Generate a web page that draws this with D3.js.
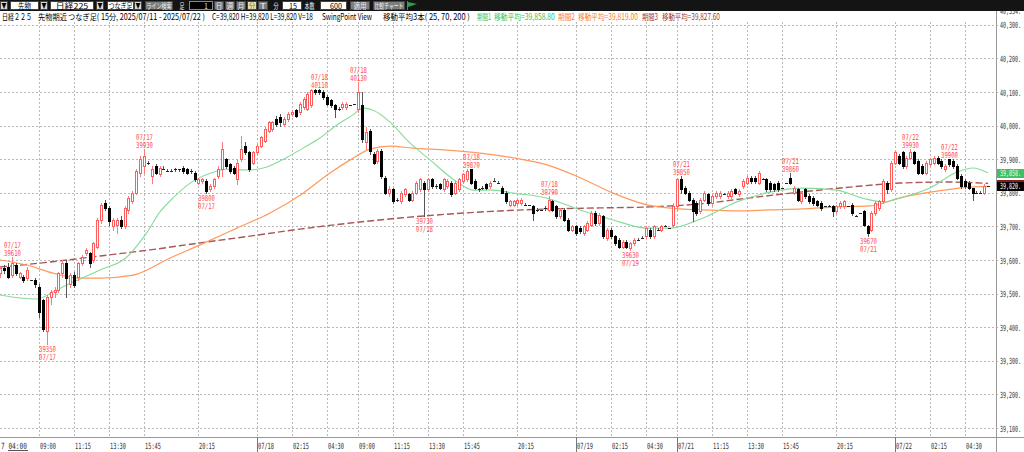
<!DOCTYPE html>
<html><head><meta charset="utf-8">
<script src="https://cdn.jsdelivr.net/npm/d3@7/dist/d3.min.js"></script>
<style>html,body{margin:0;padding:0;background:#fff;overflow:hidden}svg{display:block}</style>
</head><body>
<svg id="chart" width="1024" height="452"></svg>
<script>
// ================= DATA (15-minute bars, [open, high, low, close]) =================
const night0717 = [ // 07/17 04:00 - 06:00
[39560,39580,39550,39575],[39575,39585,39560,39570],[39580,39590,39545,39550],[39555,39610,39550,39590],
[39585,39590,39555,39560],[39550,39565,39545,39560],[39550,39555,39535,39540],[39545,39580,39540,39570],
[39540,39540,39540,39540]];
const day0717 = [ // 07/17 08:45 - 15:45
[39540,39545,39520,39530],[39520,39530,39430,39445],[39480,39485,39390,39395],[39390,39495,39350,39490],
[39490,39510,39470,39505],[39505,39520,39490,39510],[39510,39565,39505,39560],[39560,39600,39550,39590],
[39590,39600,39490,39545],[39530,39560,39520,39555],[39555,39565,39520,39525],[39550,39595,39540,39590],
[39590,39615,39585,39610],[39620,39635,39615,39630],[39620,39625,39580,39590],[39600,39655,39595,39650],
[39640,39725,39635,39720],[39720,39770,39710,39765],[39770,39780,39750,39755],[39755,39760,39705,39715],
[39700,39725,39690,39720],[39705,39725,39680,39720],[39720,39730,39695,39700],[39700,39760,39695,39755],
[39750,39790,39740,39785],[39775,39805,39770,39800],[39800,39870,39795,39865],[39860,39910,39850,39900],
[39880,39930,39860,39910]];
const night0718 = [ // 07/17 17:00 - 07/18 06:00
[39890,39895,39885,39890],[39850,39880,39830,39870],[39880,39885,39855,39860],[39855,39880,39850,39875],
[39870,39880,39870,39870],[39865,39870,39865,39865],[39865,39870,39865,39865],[39870,39875,39865,39870],
[39870,39870,39865,39870],[39875,39880,39860,39865],[39870,39875,39855,39860],[39865,39870,39860,39865],
[39860,39865,39835,39840],[39830,39845,39825,39840],[39835,39845,39830,39840],[39835,39840,39800,39805],
[39810,39825,39805,39820],[39820,39845,39815,39840],[39850,39880,39845,39870],[39870,39950,39850,39930],
[39900,39905,39875,39880],[39885,39890,39860,39865],[39875,39880,39855,39860],[39840,39900,39825,39890],
[39900,39970,39895,39930],[39940,39950,39915,39920],[39920,39925,39865,39870],[39890,39925,39885,39920],
[39920,39945,39915,39940],[39940,39970,39935,39965],[39955,39995,39950,39990],[39985,40015,39980,40010],
[39990,40015,39985,40010],[40020,40030,40000,40005],[40025,40035,40000,40010],[40005,40025,40000,40020],
[40020,40040,40015,40035],[40035,40045,40030,40040],[40045,40050,40025,40030],[40040,40070,40035,40065],
[40055,40085,40050,40080],[40050,40100,40045,40095],[40060,40108,40055,40105],[40105,40108,40095,40100],
[40105,40110,40095,40100],[40100,40105,40080,40085],[40085,40090,40060,40065],[40075,40080,40055,40060],
[40060,40065,40025,40050],[40050,40055,40045,40050],[40055,40070,40050,40065],[40055,40070,40050,40065],
[40060,40060,40060,40060]];
const day0718 = [ // 07/18 08:45 - 15:45
[40065,40065,40065,40065],[40050,40130,40040,40100],[40060,40100,39950,39960],[39950,39995,39930,39980],
[39985,39990,39915,39925],[39915,39920,39885,39890],[39895,39930,39890,39925],[39925,39930,39845,39850],
[39845,39850,39795,39800],[39800,39820,39790,39810],[39810,39815,39770,39775],[39780,39785,39775,39780],
[39775,39805,39770,39800],[39795,39815,39790,39810],[39795,39800,39775,39780],[39780,39805,39775,39800],
[39800,39835,39795,39830],[39810,39845,39805,39840],[39830,39835,39730,39810],[39810,39845,39805,39840],
[39840,39845,39815,39820],[39820,39825,39815,39820],[39825,39830,39810,39815],[39810,39845,39805,39840],
[39820,39840,39815,39835],[39830,39835,39790,39795],[39800,39835,39795,39830],[39810,39845,39805,39840],
[39835,39860,39830,39855]];
const night0719 = [ // 07/18 17:00 - 07/19 06:00
[39840,39870,39835,39865],[39870,39870,39825,39830],[39835,39840,39810,39815],[39810,39815,39805,39810],
[39815,39820,39810,39815],[39825,39830,39810,39815],[39820,39835,39815,39830],[39835,39845,39835,39835],
[39830,39835,39830,39830],[39815,39820,39800,39800],[39800,39805,39770,39775],[39765,39780,39760,39775],
[39765,39780,39760,39775],[39770,39785,39765,39780],[39770,39785,39765,39780],[39765,39770,39765,39765],
[39765,39765,39765,39765],[39760,39765,39720,39740],[39750,39755,39745,39750],[39750,39750,39750,39750],
[39755,39760,39750,39755],[39750,39790,39745,39780],[39775,39780,39745,39750],[39760,39765,39725,39730],
[39730,39755,39725,39750],[39750,39755,39715,39720],[39720,39725,39685,39690],[39690,39705,39685,39700],
[39700,39705,39675,39680],[39695,39700,39680,39685],[39680,39705,39675,39700],[39690,39715,39685,39710],
[39705,39745,39700,39740],[39740,39745,39705,39710],[39710,39740,39705,39735],[39730,39735,39665,39670],
[39665,39695,39660,39690],[39690,39695,39665,39670],[39670,39675,39645,39650],[39660,39665,39635,39640],
[39640,39660,39635,39655],[39655,39660,39635,39640],[39635,39655,39630,39650],[39650,39665,39645,39660],
[39660,39665,39660,39660],[39665,39670,39665,39665],[39670,39700,39665,39695],[39690,39695,39665,39670],
[39670,39705,39665,39700],[39690,39695,39690,39690],[39690,39705,39685,39700],[39700,39705,39700,39700],
[39695,39695,39695,39695]];
const day0721 = [ // 07/21 08:45 - 15:45
[39705,39770,39700,39760],[39760,39845,39750,39840],[39840,39850,39800,39810],[39815,39820,39795,39800],
[39800,39805,39775,39780],[39780,39785,39715,39745],[39770,39775,39735,39740],[39745,39785,39740,39780],
[39780,39805,39775,39800],[39795,39800,39765,39770],[39770,39795,39765,39790],[39790,39805,39785,39800],
[39790,39805,39785,39800],[39795,39800,39795,39795],[39790,39805,39785,39800],[39790,39810,39785,39805],
[39810,39815,39795,39800],[39795,39810,39790,39805],[39820,39840,39815,39835],[39830,39850,39825,39845],
[39845,39850,39830,39835],[39845,39850,39830,39835],[39830,39865,39825,39860],[39840,39845,39840,39840],
[39840,39845,39805,39810],[39830,39835,39805,39810],[39825,39830,39805,39810],[39830,39835,39805,39810],
[39815,39815,39815,39815]];
const night0722 = [ // 07/21 17:00 - 07/22 06:00
[39830,39830,39830,39830],[39845,39860,39825,39830],[39800,39820,39795,39815],[39810,39815,39775,39780],
[39775,39805,39770,39800],[39810,39815,39785,39790],[39790,39795,39770,39775],[39785,39790,39765,39770],
[39775,39780,39760,39765],[39770,39775,39750,39755],[39760,39760,39760,39760],[39760,39765,39760,39760],
[39760,39765,39730,39745],[39745,39765,39740,39760],[39760,39775,39755,39770],[39760,39780,39755,39775],
[39760,39760,39760,39760],[39765,39770,39735,39740],[39730,39735,39730,39730],[39740,39740,39740,39740],
[39745,39750,39700,39705],[39700,39705,39670,39680],[39690,39745,39685,39740],[39740,39775,39735,39770],
[39755,39780,39750,39775],[39775,39840,39770,39835],[39830,39835,39800,39810],[39810,39895,39805,39890],
[39890,39925,39885,39920],[39910,39915,39885,39890],[39920,39925,39875,39880],[39880,39910,39875,39905],
[39905,39930,39900,39920],[39920,39925,39885,39890],[39895,39900,39855,39860],[39880,39885,39855,39860],
[39860,39895,39855,39890],[39885,39905,39880,39900],[39890,39910,39885,39905],[39905,39910,39885,39890],
[39895,39900,39875,39880],[39870,39885,39865,39880],[39900,39900,39880,39885],[39895,39900,39875,39880],
[39880,39885,39840,39845],[39850,39855,39815,39820],[39835,39840,39815,39820],[39830,39835,39810,39815],
[39815,39815,39780,39800],[39800,39805,39800,39800],[39800,39805,39800,39800],[39800,39825,39795,39820],
[39820,39820,39820,39820]];

// moving averages: [bar index, value]
const ma25 = [[0,39496],[5.1,39487],[9.5,39484],[13.6,39505],[17.2,39526],[20.5,39543],[25.7,39570],[32.6,39609],
[37.8,39683],[41.1,39743],[44.4,39784],[48.8,39828],[54,39858],[58.3,39870],[64.2,39868],[68.6,39877],[73.8,39906],
[77.9,39933],[82.2,39963],[86.6,40002],[90.7,40032],[93.3,40052],[95.9,40046],[100.2,40011],[104.6,39957],
[110.5,39898],[117.5,39832],[121.6,39808],[126.7,39808],[131.9,39799],[140.6,39784],[149.1,39749],[157.6,39719],
[166.3,39695],[172.2,39695],[180.7,39725],[189.4,39773],[197.9,39802],[206.4,39814],[215.1,39808],[221.8,39784],
[227,39773],[232.1,39787],[239,39814],[246,39862],[250.1,39874],[254,39859]];
const ma70 = [[0,39600],[6.9,39585],[13.6,39561],[20.5,39546],[25.7,39546],[34.2,39555],[43.7,39606],[51.4,39645],
[60.9,39695],[69.4,39740],[77.9,39799],[84.8,39859],[90,39898],[95.1,39930],[100.2,39939],[106.1,39933],
[114.9,39927],[123.4,39918],[131.9,39904],[140.6,39883],[149.1,39845],[157.6,39799],[166.3,39764],[174.8,39752],
[180.7,39749],[189.4,39746],[197.9,39749],[206.4,39752],[215.1,39758],[223.6,39761],[232.1,39787],[240.9,39805],
[249.3,39817],[254,39819]];
const ma200 = [[0,39579],[12.8,39594],[25.7,39612],[38.5,39630],[51.4,39651],[64.2,39671],[77.1,39692],[90,39710],
[102.8,39725],[115.7,39737],[128.5,39746],[141.4,39752],[154.2,39755],[167.1,39758],[179.9,39767],[192.8,39785],
[205.6,39802],[218.5,39817],[231.3,39829],[244.2,39832],[254,39828]];
const maLast = [39858.80, 39819.00, 39827.60];
const lastClose = 39820;

const tickIndex = [10,19,28,37,51,66,75,84,92,101,110,119,133,148,157,166,174,183,192,201,215,230,239,248];
const tickLabel = ["09:00","11:15","13:30","15:45","20:15","07/18","02:15","04:30","09:00","11:15","13:30","15:45",
"20:15","07/19","02:15","04:30","07/21","11:15","13:30","15:45","20:15","07/22","02:15","04:30"];
const priceTicks = [39100,39200,39300,39400,39500,39600,39700,39800,39900,40000,40100,40200,40300];

const swingIndex = [3,12,37,53,82,92,109,121,141,162,175,203,223,234,244];
const swingValue = [39610,39350,39930,39800,40110,40130,39730,39870,39790,39630,39850,39860,39670,39930,39900];
const swingDate = ["07/17","07/17","07/17","07/17","07/18","07/18","07/18","07/18","07/18","07/19","07/21","07/21","07/21","07/22","07/22"];
const swingType = ["H","L","H","L","H","H","L","H","H","L","H","H","L","H","H"];

// ================= DRAW =================
const bars = [].concat(night0717, day0717, night0718, day0718, night0719, day0721, night0722);
const svg = d3.select('#chart');
const plotR = 996, plotT = 11, plotB = 437;
const xs = d3.scaleLinear().domain([0,256]).range([0.1, 0.1 + 3.89*256]);
const ys = d3.scaleLinear().domain([39100,40300]).range([428, 24.8]);
const MONO = "'DejaVu Sans Mono', monospace";
const JP = "'Noto Sans CJK JP', sans-serif";

// text squeezed horizontally to a target width (bitmap-like narrow font of the original)
function fitText(g, x, y, t, w, size, family, fill, anchor) {
  const el = g.append('text').attr('font-family',family).attr('font-size',size+'px').attr('fill',fill).text(t);
  const nat = el.node().getComputedTextLength() || w;
  const s = w / nat;
  const x0 = anchor==='middle' ? x - w/2 : anchor==='end' ? x - w : x;
  el.attr('transform',`translate(${x0},${y}) scale(${s},1)`);
  return el;
}

svg.append('rect').attr('width',1024).attr('height',452).attr('fill','#fff');
svg.append('defs').append('clipPath').attr('id','plotclip').append('rect')
  .attr('x',0).attr('y',plotT).attr('width',plotR).attr('height',plotB-plotT);

// grid
const grid = svg.append('g');
grid.selectAll('line.h').data(priceTicks).join('line')
  .attr('x1',0).attr('x2',999).attr('y1',d=>Math.round(ys(d))+0.5).attr('y2',d=>Math.round(ys(d))+0.5)
  .attr('stroke','#b9b9b9').attr('stroke-dasharray','2,2');
grid.selectAll('line.v').data(tickIndex).join('line')
  .attr('x1',d=>Math.round(xs(d))+0.5).attr('x2',d=>Math.round(xs(d))+0.5).attr('y1',22).attr('y2',plotB)
  .attr('stroke','#b9b9b9').attr('stroke-dasharray','2,2');

const plot = svg.append('g').attr('clip-path','url(#plotclip)');

// moving averages
const lineGen = d3.line().x(d=>xs(d[0])).y(d=>ys(d[1])).curve(d3.curveMonotoneX);
plot.append('path').attr('d',lineGen(ma200)).attr('fill','none').attr('stroke','#a85656')
  .attr('stroke-width',1.4).attr('stroke-dasharray','7,3');
plot.append('path').attr('d',lineGen(ma70)).attr('fill','none').attr('stroke','#ff9a5c').attr('stroke-width',1.2);
plot.append('path').attr('d',lineGen(ma25)).attr('fill','none').attr('stroke','#86dc9a').attr('stroke-width',1.1);

// candles
const cg = plot.append('g');
bars.forEach((b,i)=>{
  const [o,h,l,c] = b;
  const cx = Math.round(xs(i));
  const up = c>o, down = c<o;
  const wickCol = up ? '#ff7a7a' : '#555';
  if (h!==l) cg.append('line').attr('x1',cx+0.5).attr('x2',cx+0.5)
     .attr('y1',Math.round(ys(h))).attr('y2',Math.round(ys(l))+1).attr('stroke',wickCol);
  if (up) {
    const yt = Math.round(ys(c)), yb = Math.round(ys(o));
    cg.append('rect').attr('x',cx-0.5).attr('y',yt+0.5).attr('width',2).attr('height',Math.max(1,yb-yt))
      .attr('fill','#fff').attr('stroke','#ff5c5c');
  } else if (down) {
    const yt = Math.round(ys(o)), yb = Math.round(ys(c));
    cg.append('rect').attr('x',cx-1).attr('y',yt).attr('width',3).attr('height',Math.max(1,yb-yt+1)).attr('fill','#000');
  } else {
    const yy = Math.round(ys(c))+0.5;
    cg.append('line').attr('x1',cx-1).attr('x2',cx+2).attr('y1',yy).attr('y2',yy).attr('stroke','#222');
  }
});

// swing labels
const lab = svg.append('g');
swingIndex.forEach((idx,k)=>{
  const cx = Math.round(xs(idx))+0.5, y = ys(swingValue[k]);
  const lines = swingType[k]==='H' ? [[swingDate[k], y-9],[String(swingValue[k]), y-1]]
                                   : [[String(swingValue[k]), y+8],[swingDate[k], y+16]];
  lines.forEach(([t,yy])=> fitText(lab, cx, yy, t, 17, 8, MONO, '#ff4848', 'middle'));
});

// axes frame
svg.append('line').attr('x1',plotR+0.5).attr('x2',plotR+0.5).attr('y1',plotT).attr('y2',452).attr('stroke','#999');
svg.append('line').attr('x1',0).attr('x2',1024).attr('y1',plotB+0.5).attr('y2',plotB+0.5).attr('stroke','#999');

// right price axis (ticks from the y scale)
const yAxis = d3.axisRight(ys).tickValues(priceTicks).tickSize(0).tickPadding(0)
  .tickFormat(d=>d3.format(',')(d)+'.');
const ya = svg.append('g').attr('transform',`translate(1000,0)`).call(yAxis);
ya.select('.domain').remove();
ya.selectAll('.tick text').each(function(d){
  const el = d3.select(this).attr('font-family',MONO).attr('font-size','8.5px').attr('fill','#333')
     .attr('x',null).attr('dy',null).attr('text-anchor','start');
  const nat = this.getComputedTextLength();
  el.attr('transform',`translate(0,3) scale(${21/nat},1)`);
});
// partially hidden top label
fitText(svg, 1000, 14, '40,334.', 21, 8.5, MONO, '#333', 'start');

// current value boxes (MA25 green, MA200 dark red strip, last close black)
const boxes = [[maLast[0],'#3cc265','#e9ffe9',true],[maLast[2],'#8b1a1a','#fff',false],[lastClose,'#000','#fff',true]];
boxes.forEach(([v,bg,fg,withText])=>{
  const y = Math.round(ys(v));
  svg.append('rect').attr('x',plotR+1).attr('y',y-4).attr('width',1024-plotR-1).attr('height',9).attr('fill',bg);
  if (withText) fitText(svg, 1000, y+3, d3.format(',')(Math.floor(v))+'.', 21, 8.5, MONO, fg, 'start');
});

// bottom time axis (ticks from the x scale)
const xAxis = d3.axisBottom(xs).tickValues(tickIndex).tickSize(0).tickPadding(0)
  .tickFormat((d,k)=>tickLabel[k]);
const xa = svg.append('g').attr('transform',`translate(0,${plotB})`).call(xAxis);
xa.select('.domain').remove();
xa.selectAll('.tick').attr('transform',d=>`translate(${Math.round(xs(d))},0)`);
xa.selectAll('.tick text').each(function(){
  const el = d3.select(this).attr('font-family',MONO).attr('font-size','8.5px').attr('fill','#333')
     .attr('text-anchor','start').attr('x',null).attr('y',null).attr('dy',null);
  const nat = this.getComputedTextLength();
  el.attr('transform',`translate(1,12) scale(${16/nat},1)`);
});
xa.selectAll('.tick').filter((d,k)=>tickLabel[k].includes('/')).append('line')
  .attr('x1',0.5).attr('x2',0.5).attr('y1',0).attr('y2',15).attr('stroke','#777');
fitText(svg, 1, 449, '7 04:00', 26, 8.5, MONO, '#333', 'start');
svg.append('line').attr('x1',8).attr('x2',28).attr('y1',450.5).attr('y2',450.5).attr('stroke','#555');

// info line
const info = [
  ['日経２２５',2,30,'#000'],['先物期近',38,29,'#000'],['つなぎ足( 15分, 2025/07/11 - 2025/07/22 )',68,137,'#000'],
  ['C=39,820 H=39,820 L=39,820 V=18',212,101,'#000'],['SwingPoint View',322,50,'#000'],
  ['移動平均3本( 25, 70, 200 )',383,87,'#000'],
  ['期間1',477,14,'#37c24f'],['移動平均=39,858.80',494,61,'#37c24f'],
  ['期間2',558,17,'#ff7a2a'],['移動平均=39,819.00',578,60,'#ff7a2a'],
  ['期間3',642,16,'#a03434'],['移動平均=39,827.60',662,58,'#a03434']];
info.forEach(([t,x,w,col])=> fitText(svg, x, 20, t, w, 8.5, JP, col, 'start'));

// toolbar
const tb = svg.append('g');
tb.append('rect').attr('width',1024).attr('height',11).attr('fill','#141414');
const tbLayout = [
 [0,8,'btn','▼'],[10,29,'input','先物'],[40,8,'btn','▼'],[50,44,'input','日経225'],[96,8,'btn','▼'],
 [107,27,'input','つなぎ足'],[134,8,'btn','▼'],[145,28,'gbtn','ライン検索'],[178,8,'label','足'],
 [189,24,'dark','1'],[214,10,'gbtn','日'],[225,10,'gbtn','週'],[236,10,'gbtn','月'],[247,10,'ybtn','分'],[258,10,'gbtn','T'],
 [272,8,'label','分'],[282,20,'input','15'],[303,13,'label','本数'],[320,27,'input','600'],[350,20,'gbtn','適用'],[373,32,'gbtn','比較チャート']];
const fills = {btn:'#d8d8d8',input:'#fff',gbtn:'#7d7d7d',dark:'#000',ybtn:'#e7dfa4',label:'none'};
const tcol = {btn:'#000',input:'#000',gbtn:'#eee',dark:'#ddd',ybtn:'#777',label:'#eee'};
tbLayout.forEach(([x,w,type,t])=>{
  if (type!=='label') tb.append('rect').attr('x',x+0.5).attr('y',1.5).attr('width',w-1).attr('height',8)
      .attr('fill',fills[type]).attr('stroke',type==='dark'?'#888':'#444');
  const numeric = /^\d+$/.test(t);
  const tw = Math.min(w-3, t.length*(numeric?4:6.5));
  const tx = numeric ? x + w - 5 - tw : x + (w - tw)/2;
  fitText(tb, tx, 8.5, t, tw, 7.5, JP, tcol[type], 'start');
});
tb.append('path').attr('d','M407,1 L408,1 L408,10 L407,10 Z M408,2 L417,4 L408,7 Z').attr('fill','#2e9e4a');
</script>
</body></html>
